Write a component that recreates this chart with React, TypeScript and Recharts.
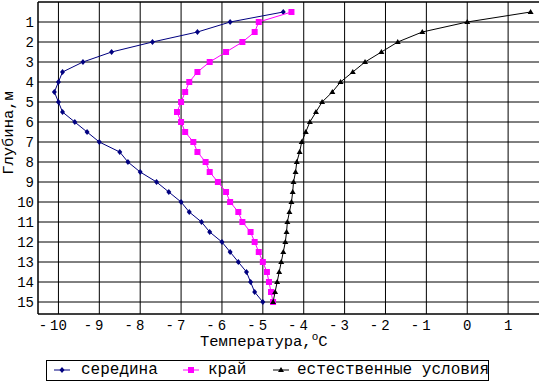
import { ScatterChart, Scatter, XAxis, YAxis, CartesianGrid, ReferenceLine, Label } from "recharts";

// depth, m
const depths = [0.5, 1, 1.5, 2, 2.5, 3, 3.5, 4, 4.5, 5, 5.5, 6, 6.5, 7, 7.5, 8, 8.5, 9, 9.5, 10, 10.5, 11, 11.5, 12, 12.5, 13, 13.5, 14, 14.5, 15];

// temperature, °C
const middle = [-4.5, -5.8, -6.6, -7.7, -8.7, -9.4, -9.9, -10.0, -10.1, -10.0, -9.9, -9.6, -9.3, -9.0, -8.5, -8.3, -8.0, -7.6, -7.3, -7.0, -6.8, -6.5, -6.3, -6.0, -5.8, -5.6, -5.4, -5.3, -5.2, -5.0];
const edge = [-4.3, -5.1, -5.2, -5.5, -5.9, -6.3, -6.6, -6.8, -6.9, -7.0, -7.1, -7.0, -6.9, -6.7, -6.6, -6.4, -6.3, -6.1, -5.9, -5.8, -5.6, -5.5, -5.3, -5.2, -5.1, -5.0, -4.9, -4.85, -4.8, -4.75];
const natural = [1.55, 0.0, -1.1, -1.7, -2.1, -2.5, -2.8, -3.1, -3.3, -3.55, -3.7, -3.85, -3.95, -4.05, -4.1, -4.17, -4.2, -4.25, -4.27, -4.3, -4.35, -4.4, -4.42, -4.45, -4.5, -4.55, -4.6, -4.65, -4.7, -4.75];

const tempTicks = [-10, -9, -8, -7, -6, -5, -4, -3, -2, -1, 0, 1];
const depthTicks = [1, 2, 3, 4, 5, 6, 7, 8, 9, 10, 11, 12, 13, 14, 15];

const FONT = "'Liberation Mono', 'DejaVu Sans Mono', monospace";
const NAVY = "#000080";
const MAGENTA = "#FF00FF";

const toPoints = (temps: number[]) => depths.map((d, i) => ({ t: temps[i], d }));

function Diamond({ cx, cy }: any) {
  return <polygon points={`${cx},${cy - 3} ${cx + 2.5},${cy} ${cx},${cy + 3} ${cx - 2.5},${cy}`} fill={NAVY} />;
}

function Square({ cx, cy }: any) {
  return <rect x={cx - 3} y={cy - 3} width={6} height={6} fill={MAGENTA} />;
}

function Triangle({ cx, cy }: any) {
  return <polygon points={`${cx},${cy - 3} ${cx + 3},${cy + 2} ${cx - 3},${cy + 2}`} fill="#000" />;
}

function TempTick({ x, payload }: any) {
  const v = payload.value;
  const digits = String(Math.abs(v));
  return (
    <g fontFamily={FONT} fontSize={14} fill="#000">
      <text x={x} y={330} textAnchor="middle">{digits}</text>
      {v < 0 && (
        <text x={x - digits.length * 4.2 - 3} y={330} textAnchor="end">-</text>
      )}
    </g>
  );
}

function DepthTick({ y, payload }: any) {
  return (
    <text x={34} y={y + 5} textAnchor="end" fontFamily={FONT} fontSize={14} fill="#000">
      {payload.value}
    </text>
  );
}

const legendItems = [
  { name: "середина", color: NAVY, icon: 54, text: 81, Marker: Diamond },
  { name: "край", color: MAGENTA, icon: 183, text: 208, Marker: Square },
  { name: "естественные условия", color: "#000", icon: 273, text: 297, Marker: Triangle },
];

export default function App() {
  return (
    <div style={{ position: "fixed", left: 0, top: 0, width: 539, height: 383, overflow: "hidden", background: "#fff" }}>
      <ScatterChart width={549} height={383} margin={{ top: 2, right: 0, bottom: 0, left: 0 }}>
        <CartesianGrid stroke="#000" strokeWidth={1} />
        <XAxis
          type="number"
          dataKey="t"
          domain={[-10.5, 2]}
          ticks={tempTicks}
          height={69}
          axisLine={{ stroke: "#000" }}
          tickLine={false}
          tick={<TempTick />}
          interval={0}
        >
          <Label
            content={() => (
              <text x={200} y={346} fontFamily={FONT} fontSize={15.5} fill="#000">
                Температура,<tspan fontSize={11} dy={-6}>o</tspan><tspan dy={6}>C</tspan>
              </text>
            )}
          />
        </XAxis>
        <YAxis
          type="number"
          dataKey="d"
          domain={[0, 15.6]}
          reversed
          ticks={depthTicks}
          width={38}
          axisLine={{ stroke: "#000" }}
          tickLine={false}
          tick={<DepthTick />}
          interval={0}
        >
          <Label
            content={() => (
              <text
                transform="translate(13,133) rotate(-90)"
                textAnchor="middle"
                fontFamily={FONT}
                fontSize={15.5}
                fill="#000"
              >
                Глубина,м
              </text>
            )}
          />
        </YAxis>
        <ReferenceLine y={0} stroke="#000" />
        <Scatter
          name="середина"
          data={toPoints(middle)}
          fill={NAVY}
          line={{ stroke: NAVY, strokeWidth: 1 }}
          lineType="joint"
          shape={<Diamond />}
          isAnimationActive={false}
        />
        <Scatter
          name="край"
          data={toPoints(edge)}
          fill={MAGENTA}
          line={{ stroke: MAGENTA, strokeWidth: 1 }}
          lineType="joint"
          shape={<Square />}
          isAnimationActive={false}
        />
        <Scatter
          name="естественные условия"
          data={toPoints(natural)}
          fill="#000"
          line={{ stroke: "#000", strokeWidth: 1 }}
          lineType="joint"
          shape={<Triangle />}
          isAnimationActive={false}
        />
      </ScatterChart>
      <div
        style={{
          position: "absolute",
          left: 46,
          top: 360,
          width: 443,
          height: 21,
          border: "1px solid #000",
          boxSizing: "border-box",
          fontFamily: FONT,
          fontSize: 16,
        }}
      >
        {legendItems.map(({ name, color, icon, text, Marker }) => (
          <div key={name}>
            <svg style={{ position: "absolute", left: icon - 47, top: 4 }} width={16} height={10}>
              <line x1={0} y1={5} x2={16} y2={5} stroke={color} strokeWidth={1} />
              <Marker cx={8} cy={5} />
            </svg>
            <span style={{ position: "absolute", left: text - 47, top: -1, lineHeight: "20px", whiteSpace: "nowrap" }}>
              {name}
            </span>
          </div>
        ))}
      </div>
    </div>
  );
}
